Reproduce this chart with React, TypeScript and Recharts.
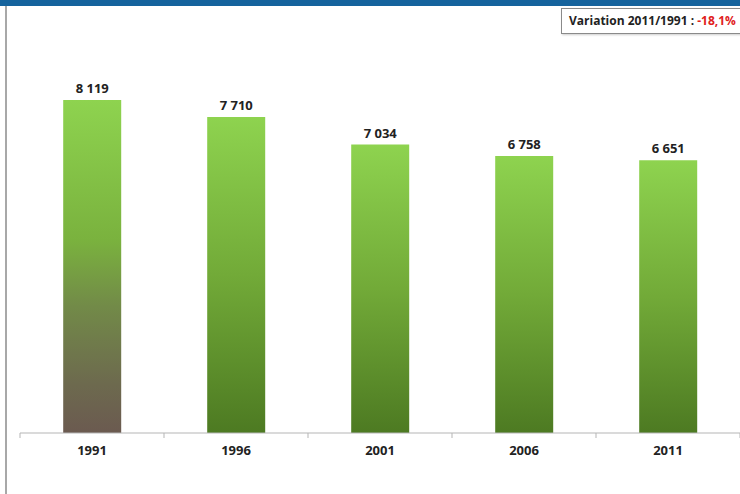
import { BarChart, Bar, XAxis, YAxis, Cell, LabelList } from "recharts";

const years = ["1991", "1996", "2001", "2006", "2011"];
const population = [8119, 7710, 7034, 6758, 6651];
const edgeTicks = [0, 1, 2, 3, 4, 5];

const data = years.map((year, i) => ({ year, value: population[i], pos: i + 0.5 }));

const fmt = (v: number) => String(v).replace(/\B(?=(\d{3})+(?!\d))/g, "\u00a0");

const font = "'Open Sans', 'Liberation Sans', sans-serif";

export default function App() {
  return (
    <div style={{ position: "absolute", left: 0, top: 0, width: 740, height: 494, background: "#fff", overflow: "hidden", fontFamily: font }}>
      <div style={{ position: "absolute", left: 0, top: 0, width: 740, height: 6, background: "#15639d" }} />
      <div style={{ position: "absolute", left: 5, top: 6, width: 1.5, height: 488, background: "#a8a8a8" }} />
      <BarChart
        width={740}
        height={494}
        data={data}
        margin={{ top: 23, right: 0, bottom: 0, left: 20 }}
        barCategoryGap="30%"
      >
        <defs>
          <linearGradient id="gGreen" x1="0" y1="0" x2="0" y2="1">
            <stop offset="0%" stopColor="#8ed34f" />
            <stop offset="50%" stopColor="#72aa38" />
            <stop offset="100%" stopColor="#4d7a22" />
          </linearGradient>
          <linearGradient id="gBrown" x1="0" y1="0" x2="0" y2="1">
            <stop offset="0%" stopColor="#8ed34f" />
            <stop offset="42%" stopColor="#7ab23e" />
            <stop offset="62%" stopColor="#728a48" />
            <stop offset="85%" stopColor="#6d6a4e" />
            <stop offset="100%" stopColor="#6b5a50" />
          </linearGradient>
        </defs>
        <XAxis
          xAxisId="a"
          type="number"
          dataKey="pos"
          domain={[0, 5]}
          ticks={edgeTicks}
          tickFormatter={() => ""}
          stroke="#b5b5b5"
          tickSize={5}
          height={5}
        />
        <XAxis
          xAxisId="b"
          dataKey="year"
          axisLine={false}
          tickLine={false}
          height={56}
          tick={{ fill: "#222", fontSize: 13, fontWeight: 700, fontFamily: font }}
          tickMargin={2}
        />
        <YAxis hide domain={[0, 10000]} />
        <Bar dataKey="value" xAxisId="b" isAnimationActive={false}>
          {data.map((d, i) => (
            <Cell key={d.year} fill={i === 0 ? "url(#gBrown)" : "url(#gGreen)"} />
          ))}
          <LabelList
            dataKey="value"
            position="top"
            offset={7}
            formatter={(v: any) => fmt(Number(v))}
            style={{ fill: "#222", fontSize: 13, fontWeight: 700, fontFamily: font }}
          />
        </Bar>
      </BarChart>
      <div
        style={{
          position: "absolute",
          left: 561,
          top: 8,
          width: 200,
          height: 26,
          border: "1px solid #8a8a8a",
          boxSizing: "border-box",
          background: "#fff",
          fontSize: 12,
          fontWeight: 700,
          color: "#222",
          lineHeight: "24px",
          paddingLeft: 7,
          whiteSpace: "nowrap",
          boxShadow: "1px 1px 2px rgba(0,0,0,0.2)",
        }}
      >
        Variation 2011/1991 : <span style={{ color: "#e0201c" }}>-18,1%</span>
      </div>
    </div>
  );
}
